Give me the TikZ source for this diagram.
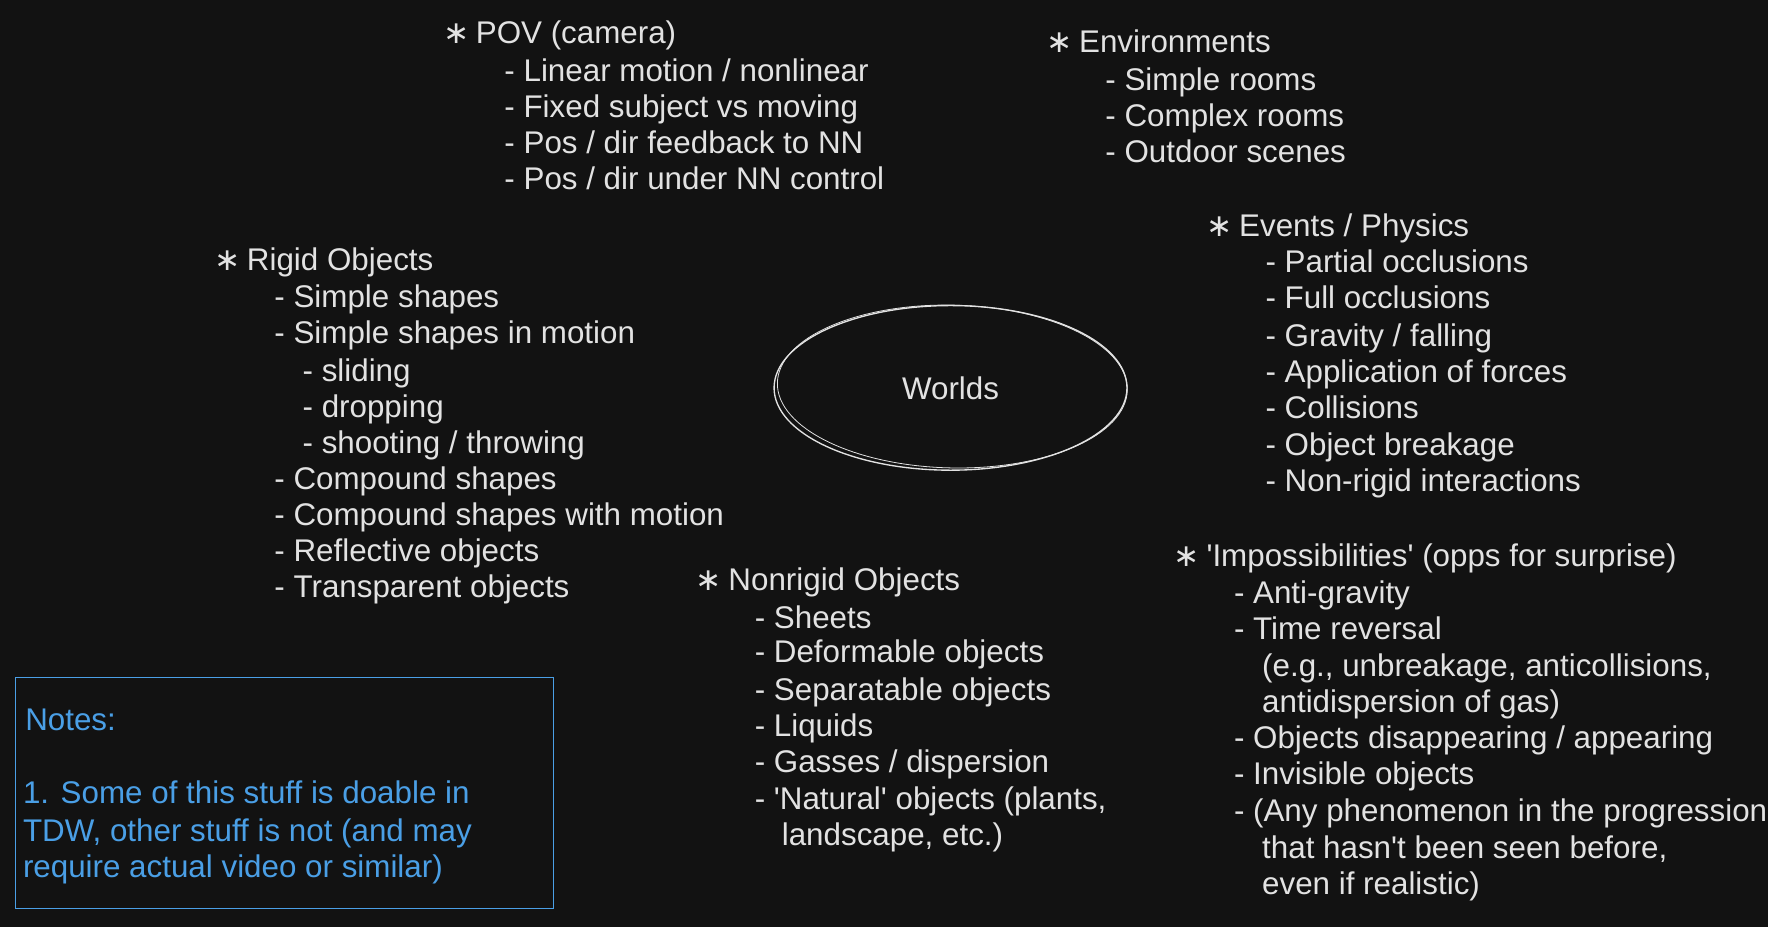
\documentclass[tikz,border=0pt]{standalone}
\usepackage{fontspec}
\setmainfont{Liberation Sans}
\newfontfamily\starfont{DejaVu Sans}
\usetikzlibrary{shapes.geometric}
\definecolor{bg}{HTML}{121212}
\definecolor{ink}{HTML}{E2E2E2}
\definecolor{note}{HTML}{4A9FE6}
% star bullet: the asterisk operator sits centred on the x-height
\newcommand\bul{\hspace{-0.08em}{\starfont ∗}\hspace{0.2em}}
\newcommand\sq{\textquotesingle}
\begin{document}
\begin{tikzpicture}[x=0.5pt,y=-0.5pt,
  txt/.style={text=ink,font=\fontsize{13.9}{16}\selectfont,inner sep=0pt,anchor=base west,yshift=-1pt},
  ntxt/.style={txt,text=note},
  worldsnode/.style={ellipse,draw=ink,line width=0.6pt,minimum width=156.5pt,minimum height=73pt,
    text=ink,font=\fontsize{13.9}{16}\selectfont,inner sep=0pt},
  notebox/.style={draw=note,line width=0.6pt}]
\fill[bg] (0,0) rectangle (1568,822);
\useasboundingbox (0,0) rectangle (1568,822);

% centre
\node[worldsnode] (worlds) at (843,344) {Worlds};
\draw[ink,line width=0.35pt] ([xshift=0.8pt,yshift=0.6pt]worlds.center)
  ellipse [x radius=77.6pt, y radius=36.1pt, rotate=-1.2];

% POV (camera)
\node[txt] (pov0) at (395,37) {\bul POV (camera)};
\node[txt] (pov1) at (447,70) {- Linear motion / nonlinear};
\node[txt] (pov2) at (447,102) {- Fixed subject vs moving};
\node[txt] (pov3) at (447,134) {- Pos / dir feedback to NN};
\node[txt] (pov4) at (447,166) {- Pos / dir under NN control};

% Environments
\node[txt] (env0) at (930,45) {\bul Environments};
\node[txt] (env1) at (980,78) {- Simple rooms};
\node[txt] (env2) at (980,110) {- Complex rooms};
\node[txt] (env3) at (980,142) {- Outdoor scenes};

% Events / Physics
\node[txt] (ev0) at (1072,208) {\bul Events / Physics};
\node[txt] (ev1) at (1122,240) {- Partial occlusions};
\node[txt] (ev2) at (1122,272) {- Full occlusions};
\node[txt] (ev3) at (1122,305) {- Gravity / falling};
\node[txt] (ev4) at (1122,337) {- Application of forces};
\node[txt] (ev5) at (1122,369) {- Collisions};
\node[txt] (ev6) at (1122,402) {- Object breakage};
\node[txt] (ev7) at (1122,434) {- Non-rigid interactions};

% Rigid Objects
\node[txt] (rg0) at (192,238) {\bul Rigid Objects};
\node[txt] (rg1) at (243,271) {- Simple shapes};
\node[txt] (rg2) at (243,303) {- Simple shapes in motion};
\node[txt] (rg3) at (268,336) {- sliding};
\node[txt] (rg4) at (268,368) {- dropping};
\node[txt] (rg5) at (268,400) {- shooting / throwing};
\node[txt] (rg6) at (243,432) {- Compound shapes};
\node[txt] (rg7) at (243,464) {- Compound shapes with motion};
\node[txt] (rg8) at (243,496) {- Reflective objects};
\node[txt] (rg9) at (243,528) {- Transparent objects};

% Nonrigid Objects
\node[txt] (nr0) at (619,522) {\bul Nonrigid Objects};
\node[txt] (nr1) at (669,555) {- Sheets};
\node[txt] (nr2) at (669,586) {- Deformable objects};
\node[txt] (nr3) at (669,619) {- Separatable objects};
\node[txt] (nr4) at (669,651) {- Liquids};
\node[txt] (nr5) at (669,683) {- Gasses / dispersion};
\node[txt] (nr6) at (669,716) {- \sq Natural\sq\ objects (plants,};
\node[txt] (nr7) at (693,748) {landscape, etc.)};

% 'Impossibilities'
\node[txt] (im0) at (1043,500) {\bul \sq Impossibilities\sq\ (opps for surprise)};
\node[txt] (im1) at (1094,533) {- Anti-gravity};
\node[txt] (im2) at (1094,565) {- Time reversal};
\node[txt] (im3) at (1119,598) {(e.g., unbreakage, anticollisions,};
\node[txt] (im4) at (1119,630) {antidispersion of gas)};
\node[txt] (im5) at (1094,662) {- Objects disappearing / appearing};
\node[txt] (im6) at (1094,694) {- Invisible objects};
\node[txt] (im7) at (1094,727) {- (Any phenomenon in the progression};
\node[txt] (im8) at (1119,759) {that hasn\sq t been seen before,};
\node[txt] (im9) at (1119,791) {even if realistic)};

% Notes box
\draw[notebox] (14,601) rectangle (491,806);
\node[ntxt] (nt0) at (22,646) {Notes:};
\node[ntxt] (nt1) at (20,711) {1. Some of this stuff is doable in};
\node[ntxt] (nt2) at (20,744) {TDW, other stuff is not (and may};
\node[ntxt] (nt3) at (20,776) {require actual video or similar)};
\end{tikzpicture}
\end{document}
